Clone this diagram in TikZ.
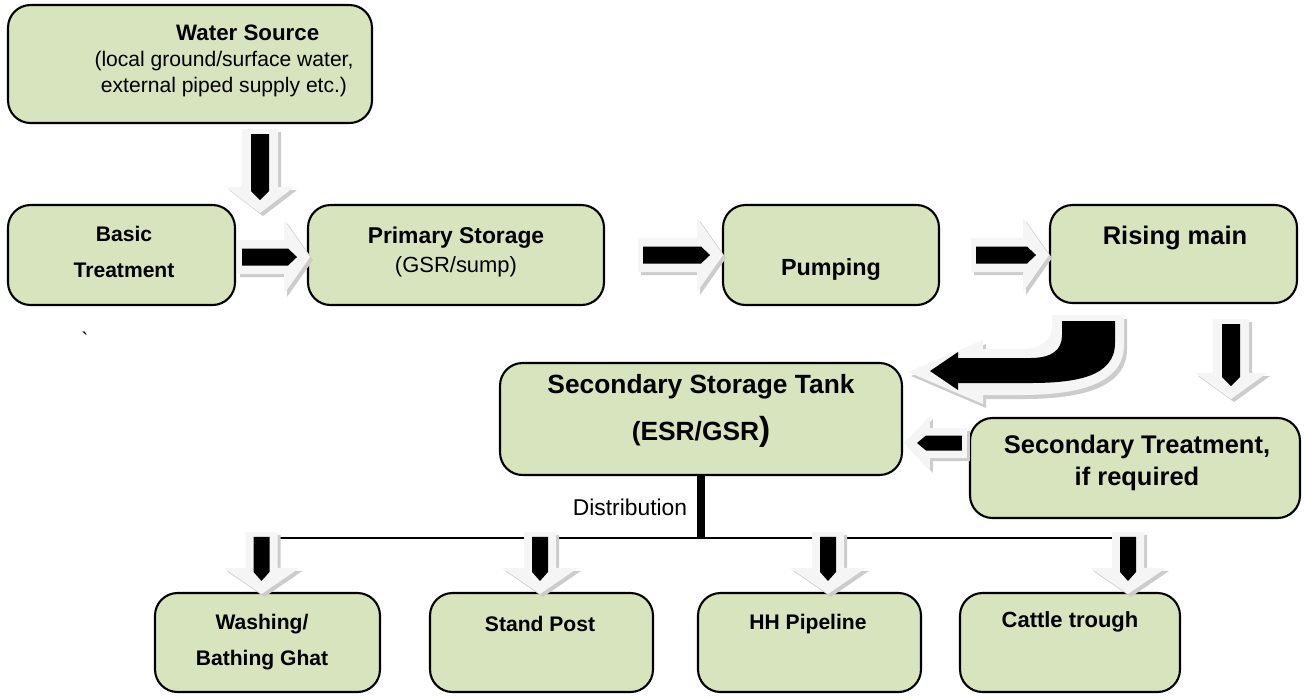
\documentclass[tikz,border=0pt]{standalone}
\usepackage{fontspec}
\setmainfont{Liberation Sans}
\usepackage{tikz}
\usetikzlibrary{calc}
\usetikzlibrary{positioning}
\definecolor{boxgreen}{RGB}{215,228,189}
\tikzset{box/.style = {draw, fill = boxgreen, line width = 1.2pt,
                       rounded corners = 0.45cm, inner sep = 0}}
\tikzset{txt/.style = {align = center, font = \fontsize{12}{15}\selectfont\bfseries}}
\tikzset{plain/.style = {align = center, font = \fontsize{12}{15}\selectfont}}
\tikzset{big/.style = {font = \fontsize{#1}{15}\selectfont\bfseries}}
% block arrow: length / angle / shaft half width / head half width
\tikzset{pics/flowarrow/.style n args = {4}{code = {
  \begin{scope}[shift = {(3,3)}, rotate = #2]
    \fill[gray!40] (0,-#3) -- (#1-26,-#3) -- (#1-26,-#4) -- (#1,0)
                   -- (#1-26,#4) -- (#1-26,#3) -- (0,#3) -- cycle;
  \end{scope}
  \begin{scope}[rotate = #2]
    \fill[gray!8] (0,-#3) -- (#1-26,-#3) -- (#1-26,-#4) -- (#1,0)
                  -- (#1-26,#4) -- (#1-26,#3) -- (0,#3) -- cycle;
    \fill[black] (5,-#3/2) -- (#1-22,-#3/2) -- (#1-13,0)
                 -- (#1-22,#3/2) -- (5,#3/2) -- cycle;
  \end{scope}}}}

\begin{document}
\begin{tikzpicture}[x = 0.02cm, y = -0.02cm]
  \useasboundingbox (0,0) rectangle (1308,698);

  % boxes
  \node [box, minimum width = 7.28cm, minimum height = 2.36cm] (ws) at (190,64) {};
  \node [box, minimum width = 4.54cm, minimum height = 2cm] (bt) at (121.5,255) {};
  \node [box, minimum width = 5.92cm, minimum height = 2cm] (ps) at (456,255) {};
  \node [box, minimum width = 4.32cm, minimum height = 2cm] (pu) at (831,255) {};
  \node [box, minimum width = 4.94cm, minimum height = 1.96cm] (rm) at (1173.5,254) {};
  \node [box, minimum width = 8.04cm, minimum height = 2.24cm] (ss) at (701,419) {};
  \node [box, minimum width = 6.6cm, minimum height = 2cm] (st) at (1135,468) {};
  \node [box, minimum width = 4.5cm, minimum height = 1.98cm] (wg) at (267.5,642.5) {};
  \node [box, minimum width = 4.46cm, minimum height = 1.98cm] (sp) at (541.5,642.5) {};
  \node [box, minimum width = 4.46cm, minimum height = 1.98cm] (hh) at (809.5,642.5) {};
  \node [box, minimum width = 4.4cm, minimum height = 1.98cm] (ct) at (1070,642.5) {};

  % texts
  \node [plain] (ws-t) at (224,61) {\hspace*{0.95cm}{\fontsize{12.7}{15}\selectfont\bfseries Water Source}\\(local ground/surface water,\\external piped supply etc.)};
  \node [txt] (bt-t) at (124,252) {Basic\\[5pt]Treatment};
  \node [txt, big = 13] (ps-t) at (456,252) {Primary Storage\\[1.5pt]\mdseries\fontsize{12.5}{15}\selectfont(GSR/sump)};
  \node [txt, big = 13.3] (pu-t) at (831,269) {Pumping};
  \node [txt, big = 14.5] (rm-t) at (1175,238) {Rising main};
  \node [txt, big = 15] (ss-t) at (701,411) {Secondary Storage Tank\\[9pt](ESR/GSR{\fontsize{19}{15}\selectfont)}};
  \node [txt, big = 14.5] (st-t) at (1137,463) {Secondary Treatment,\\[3pt]if required};
  \node [txt] (wg-t) at (262,642) {Washing/\\[5.5pt]Bathing Ghat};
  \node [txt] (sp-t) at (540,624) {Stand Post};
  \node [txt] (hh-t) at (808,624) {HH Pipeline};
  \node [txt, big = 12.5] (ct-t) at (1070,622) {Cattle trough};
  \node [plain, font = \fontsize{13}{15}\selectfont] (dist) at (630,507) {Distribution};
  \node [plain] (tick) at (85,340) {\textasciigrave};

  % straight block arrows
  \pic at ($(ws.south)+(70,5)$) {flowarrow={84}{-90}{18}{34}};
  \pic at ($(bt.east)+(1,2)$) {flowarrow={73}{0}{17}{37}};
  \pic at ($(ps.east)+(33,0)$) {flowarrow={85}{0}{17}{37}};
  \pic at ($(pu.east)+(31,0)$) {flowarrow={78}{0}{17}{37}};
  \pic at ($(rm.south)+(57.5,15)$) {flowarrow={80}{-90}{18}{36}};
  \pic at ($(st.west)+(-2,-25)$) {flowarrow={63}{180}{15}{27}};

  % bent arrow, rising main to secondary storage
  \begin{scope}[shift = {(3,4)}]
    \fill[gray!40] (1052,315) -- (1124,315) -- (1124,345)
      .. controls (1124,387) and (1070,395) .. (1020,395) -- (983,395)
      -- (983,404) -- (908,372) -- (983,340) -- (983,349) -- (1020,349)
      .. controls (1042,349) and (1052,340) .. (1052,325) -- cycle;
  \end{scope}
  \fill[gray!8] (1052,315) -- (1124,315) -- (1124,345)
    .. controls (1124,387) and (1070,395) .. (1020,395) -- (983,395)
    -- (983,404) -- (908,372) -- (983,340) -- (983,349) -- (1020,349)
    .. controls (1042,349) and (1052,340) .. (1052,325) -- cycle;
  \fill[black] (1062,321) -- (1115,321) -- (1115,343)
    .. controls (1115,377) and (1075,383) .. (1030,383) -- (958,383)
    -- (958,390) -- (930,371) -- (958,352) -- (958,358) -- (1030,358)
    .. controls (1052,358) and (1062,350) .. (1062,335) -- cycle;

  % distribution
  \coordinate (dl) at (261,538);
  \coordinate (dr) at (1130,538);
  \draw [line width = 1pt] (dl) -- (dr);
  \draw [line width = 4pt] (ss.south) -- (ss.south |- dl);
  \pic at ($(wg.north)+(-6,-60)$) {flowarrow={62}{-90}{16}{38}};
  \pic at ($(sp.north)+(-1.5,-60)$) {flowarrow={62}{-90}{16}{38}};
  \pic at ($(hh.north)+(18.5,-60)$) {flowarrow={62}{-90}{16}{38}};
  \pic at ($(ct.north)+(58,-60)$) {flowarrow={62}{-90}{16}{38}};
\end{tikzpicture}
\end{document}
